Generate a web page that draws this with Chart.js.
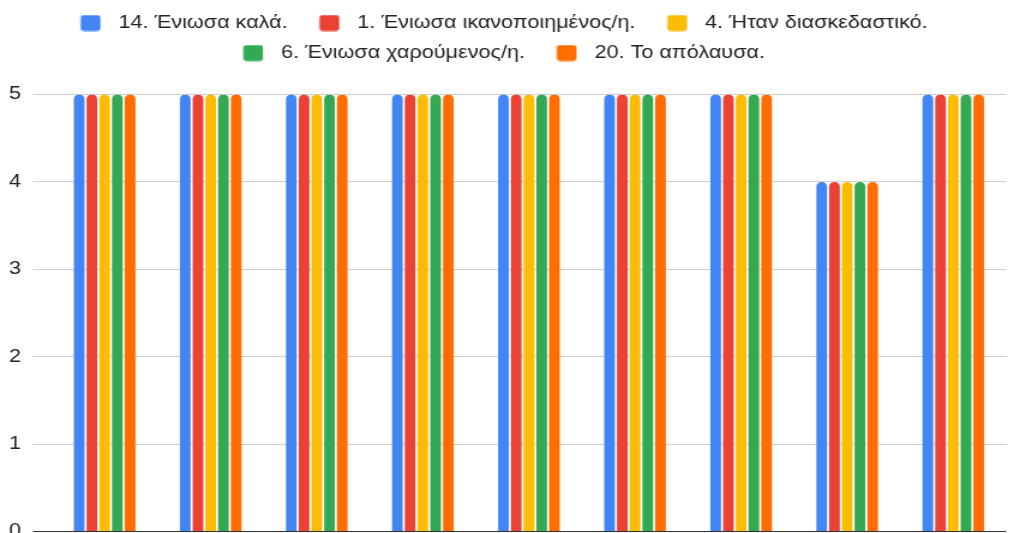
<!DOCTYPE html>
<html>
<head>
<meta charset="utf-8">
<script src="https://cdn.jsdelivr.net/npm/chart.js@4/dist/chart.umd.min.js"></script>
<style>
  html, body { margin: 0; padding: 0; background: #fff; overflow: hidden; width: 1011px; height: 533px; }
  #wrap { position: absolute; left: 0; top: 0; width: 843px; height: 560px; transform: scaleX(1.2); transform-origin: 0 0; }
  canvas { display: block; }
</style>
</head>
<body>
<div id="wrap"><canvas id="chart" width="843" height="560"></canvas></div>
<script>
// Groups along the x axis
const categories = ['1', '2', '3', '4', '5', '6', '7', '8', '9'];

// Series (one per statement)
const seriesNames = [
  '14. Ένιωσα καλά.',
  '1. Ένιωσα ικανοποιημένος/η.',
  '4. Ήταν διασκεδαστικό.',
  '6. Ένιωσα χαρούμενος/η.',
  '20. Το απόλαυσα.'
];
const feltGood  = [5, 5, 5, 5, 5, 5, 5, 4, 5];
const satisfied = [5, 5, 5, 5, 5, 5, 5, 4, 5];
const wasFun    = [5, 5, 5, 5, 5, 5, 5, 4, 5];
const feltHappy = [5, 5, 5, 5, 5, 5, 5, 4, 5];
const enjoyedIt = [5, 5, 5, 5, 5, 5, 5, 4, 5];

// Value axis ticks
const yTicks = [0, 1, 2, 3, 4, 5];

const seriesColors = ['#4285F4', '#EA4335', '#FBBC04', '#34A853', '#FF6D01'];
const seriesValues = [feltGood, satisfied, wasFun, feltHappy, enjoyedIt];

const FONT = 'Liberation Sans, Arial, sans-serif';

// Rounded legend swatch with space around it
function swatch(color) {
  const c = document.createElement('canvas');
  c.width = 37; c.height = 17;
  const g = c.getContext('2d');
  g.fillStyle = color;
  g.beginPath();
  g.roundRect(14.5, 0.5, 16.5, 16, 3);
  g.fill();
  return c;
}
const swatches = seriesColors.map(swatch);

// Re-centre the legend rows
const legendNudge = {
  id: 'legendNudge',
  afterLayout(chart) {
    const l = chart.legend;
    if (l) { l.left -= 6.5; l.right -= 6.5; }
  }
};

new Chart(document.getElementById('chart'), {
  type: 'bar',
  data: {
    labels: categories,
    datasets: seriesNames.map((name, i) => ({
      label: name,
      data: seriesValues[i],
      backgroundColor: seriesColors[i],
      borderWidth: 0,
      borderRadius: { topLeft: 5, topRight: 5 },
      borderSkipped: 'start',
      categoryPercentage: 0.6,
      barPercentage: 0.84
    }))
  },
  plugins: [legendNudge],
  options: {
    responsive: false,
    animation: false,
    devicePixelRatio: 1,
    layout: { padding: { left: 0, right: 4.4, top: 2, bottom: 28.5 } },
    plugins: {
      tooltip: { enabled: false },
      legend: {
        position: 'top',
        align: 'center',
        labels: {
          usePointStyle: true,
          pointStyleWidth: 37,
          padding: 12,
          color: '#222',
          font: { family: FONT, size: 18 },
          generateLabels(chart) {
            const items = Chart.defaults.plugins.legend.labels.generateLabels(chart);
            items.forEach((it, i) => { it.pointStyle = swatches[i]; });
            return items;
          }
        }
      },
      // empty spacer between the legend and the plot
      title: {
        display: true,
        text: '',
        weight: 500,
        padding: { top: 0, bottom: 0 },
        font: { size: 22.5, lineHeight: 1 }
      }
    },
    scales: {
      x: {
        display: false,
        offset: true,
        grid: { display: false }
      },
      y: {
        min: 0,
        max: 5,
        afterBuildTicks(scale) { scale.ticks = yTicks.map(v => ({ value: v })); },
        afterFit(scale) { scale.width = 43; },
        border: { display: false },
        grid: {
          color: c => (c.tick && c.tick.value === 0 ? '#333' : '#cfcfcf'),
          tickColor: c => (c.tick && c.tick.value === 0 ? '#333' : '#cfcfcf'),
          lineWidth: 1,
          drawTicks: true,
          tickLength: 15.5
        },
        ticks: {
          padding: 10,
          color: '#222',
          font: { family: FONT, size: 18 }
        }
      }
    }
  }
});
</script>
</body>
</html>
